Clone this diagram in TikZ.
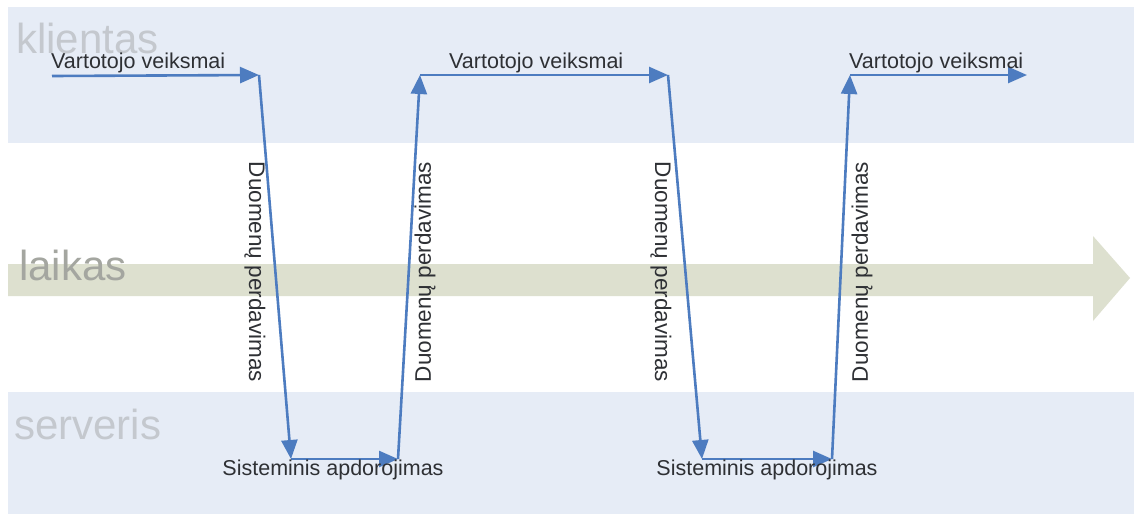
\documentclass[tikz,border=0pt]{standalone}
\usepackage{fontspec}
\setmainfont{Liberation Sans}
\usetikzlibrary{arrows.meta}
\definecolor{bandblue}{HTML}{E6ECF6}
\definecolor{timegreen}{HTML}{DDE0CF}
\definecolor{flowblue}{HTML}{4D7CC0}
\definecolor{zonegray}{HTML}{C4C8CE}
\definecolor{timegray}{HTML}{A4A6A0}
\definecolor{labelgray}{HTML}{2E3034}
\tikzset{
  zone/.style={fill=bandblue, draw=none},
  zonelabel/.style={anchor=west, inner sep=0pt, text=zonegray, font=\fontsize{42}{48}\selectfont},
  flow/.style={draw=flowblue, line width=2.6pt, -{Triangle[length=19pt,width=16pt]}, line join=miter},
  actlabel/.style={inner sep=0pt, text=labelgray, font=\fontsize{21.5}{25}\selectfont},
  xferlabel/.style={inner sep=0pt, text=labelgray, font=\fontsize{22.5}{26}\selectfont, anchor=center}
}
\begin{document}
\begin{tikzpicture}[x=1pt,y=-1pt]
\useasboundingbox (0,0) rectangle (1134,523);
\fill[white] (0,0) rectangle (1134,523);

% client and server zones
\path[zone] (8,7) rectangle (1134,143);
\path[zone] (8,392) rectangle (1134,514);

% time axis
\fill[timegreen] (8,264) -- (1093,264) -- (1093,236) -- (1130,278) -- (1093,321) -- (1093,296) -- (8,296) -- cycle;

\node[zonelabel] (klientas) at (16,38) {klientas};
\node[zonelabel, text=timegray] (laikas) at (19,265) {laikas};
\node[zonelabel] (serveris) at (14,424) {serveris};

% turning points of the exchange
\coordinate (p0) at (52,76);
\coordinate (p1) at (259,75);
\coordinate (p2) at (291,459);
\coordinate (p3) at (398,459);
\coordinate (p4) at (420,75);
\coordinate (p5) at (668,75);
\coordinate (p6) at (702,459);
\coordinate (p7) at (832,459);
\coordinate (p8) at (850,75);
\coordinate (p9) at (1027,75);

\draw[flow] (p0) -- (p1);
\draw[flow] (p1) -- (p2);
\draw[flow] (p2) -- (p3);
\draw[flow] (p3) -- (p4);
\draw[flow] (p4) -- (p5);
\draw[flow] (p5) -- (p6);
\draw[flow] (p6) -- (p7);
\draw[flow] (p7) -- (p8);
\draw[flow] (p8) -- (p9);

% user actions
\node[actlabel, anchor=west] (va1) at (51,63) {Vartotojo veiksmai};
\node[actlabel, anchor=west] (va2) at (449,63) {Vartotojo veiksmai};
\node[actlabel, anchor=west] (va3) at (849,63) {Vartotojo veiksmai};

% server processing
\node[actlabel] (sa1) at (333,470) {Sisteminis apdorojimas};
\node[actlabel] (sa2) at (767,470) {Sisteminis apdorojimas};

% data transfer
\node[xferlabel, rotate=-90] (dt1) at (255,272) {Duomenų perdavimas};
\node[xferlabel, rotate=90] (dt2) at (425,272) {Duomenų perdavimas};
\node[xferlabel, rotate=-90] (dt3) at (661,272) {Duomenų perdavimas};
\node[xferlabel, rotate=90] (dt4) at (862,272) {Duomenų perdavimas};
\end{tikzpicture}
\end{document}
